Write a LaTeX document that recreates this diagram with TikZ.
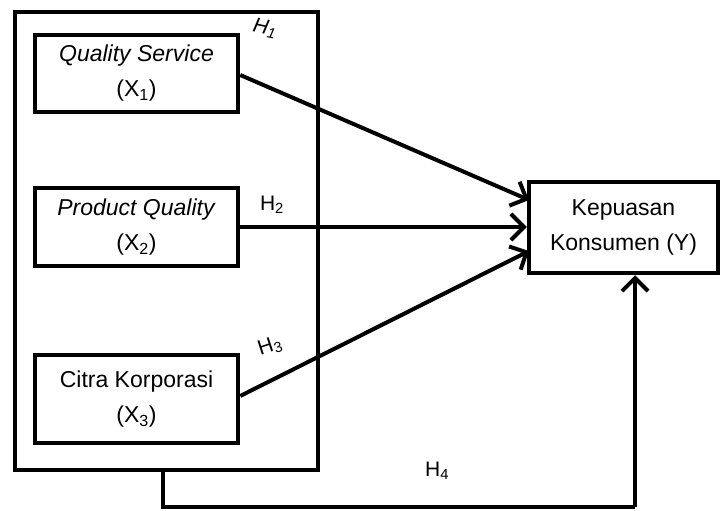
\documentclass[tikz,border=0pt]{standalone}
\usepackage{fontspec}
\setmainfont{Liberation Sans}
\usetikzlibrary{arrows.meta}
\begin{document}
\begin{tikzpicture}[x=1pt,y=-1pt,
  bx/.style={draw,line width=4.5pt,inner sep=0pt,align=center,font=\fontsize{23}{35}\selectfont},
  conn/.style={line width=4pt,-{Straight Barb[length=13pt,width=26pt,line width=4pt]}},
  lbl/.style={font=\fontsize{21}{24}\selectfont}]
\useasboundingbox (0,0) rectangle (723,511);
\node[draw,line width=4.5pt,minimum width=303pt,minimum height=458pt,inner sep=0pt] (outer) at (166.5,241) {};
\node[bx,minimum width=203pt,minimum height=77pt] (x1) at (136.5,73.5) {\textit{Quality Service}\\(X\textsubscript{1})};
\node[bx,minimum width=203pt,minimum height=78pt] (x2) at (136.5,227) {\textit{Product Quality}\\(X\textsubscript{2})};
\node[bx,minimum width=203pt,minimum height=88pt] (x3) at (136.5,399) {Citra Korporasi\\(X\textsubscript{3})};
\node[bx,minimum width=189pt,minimum height=91pt] (y) at (623.5,227.5) {Kepuasan\\Konsumen (Y)};
\coordinate (e1) at (529,200);
\coordinate (e3) at (529,251);
\coordinate (s4) at (163,470);
\coordinate (c1) at (163,507);
\coordinate (c2) at (635,507);
\draw[conn] (x1.east |- 0,75) -- (e1);
\draw[conn] (x2.east) -- (y.west |- x2.east);
\draw[conn] (x3.east |- 0,396) -- (e3);
\draw[line width=4pt] (s4) -- (c1) -- (c2);
\draw[conn] (c2) -- (y.south -| c2);
\node[lbl,rotate=-12] (h1) at (265,28) {\textit{H\textsubscript{1}}};
\node[lbl] (h2) at (272,205) {H\textsubscript{2}};
\node[lbl,rotate=18] (h3) at (270,346) {H\textsubscript{3}};
\node[lbl] (h4) at (437,471) {H\textsubscript{4}};
\end{tikzpicture}
\end{document}
